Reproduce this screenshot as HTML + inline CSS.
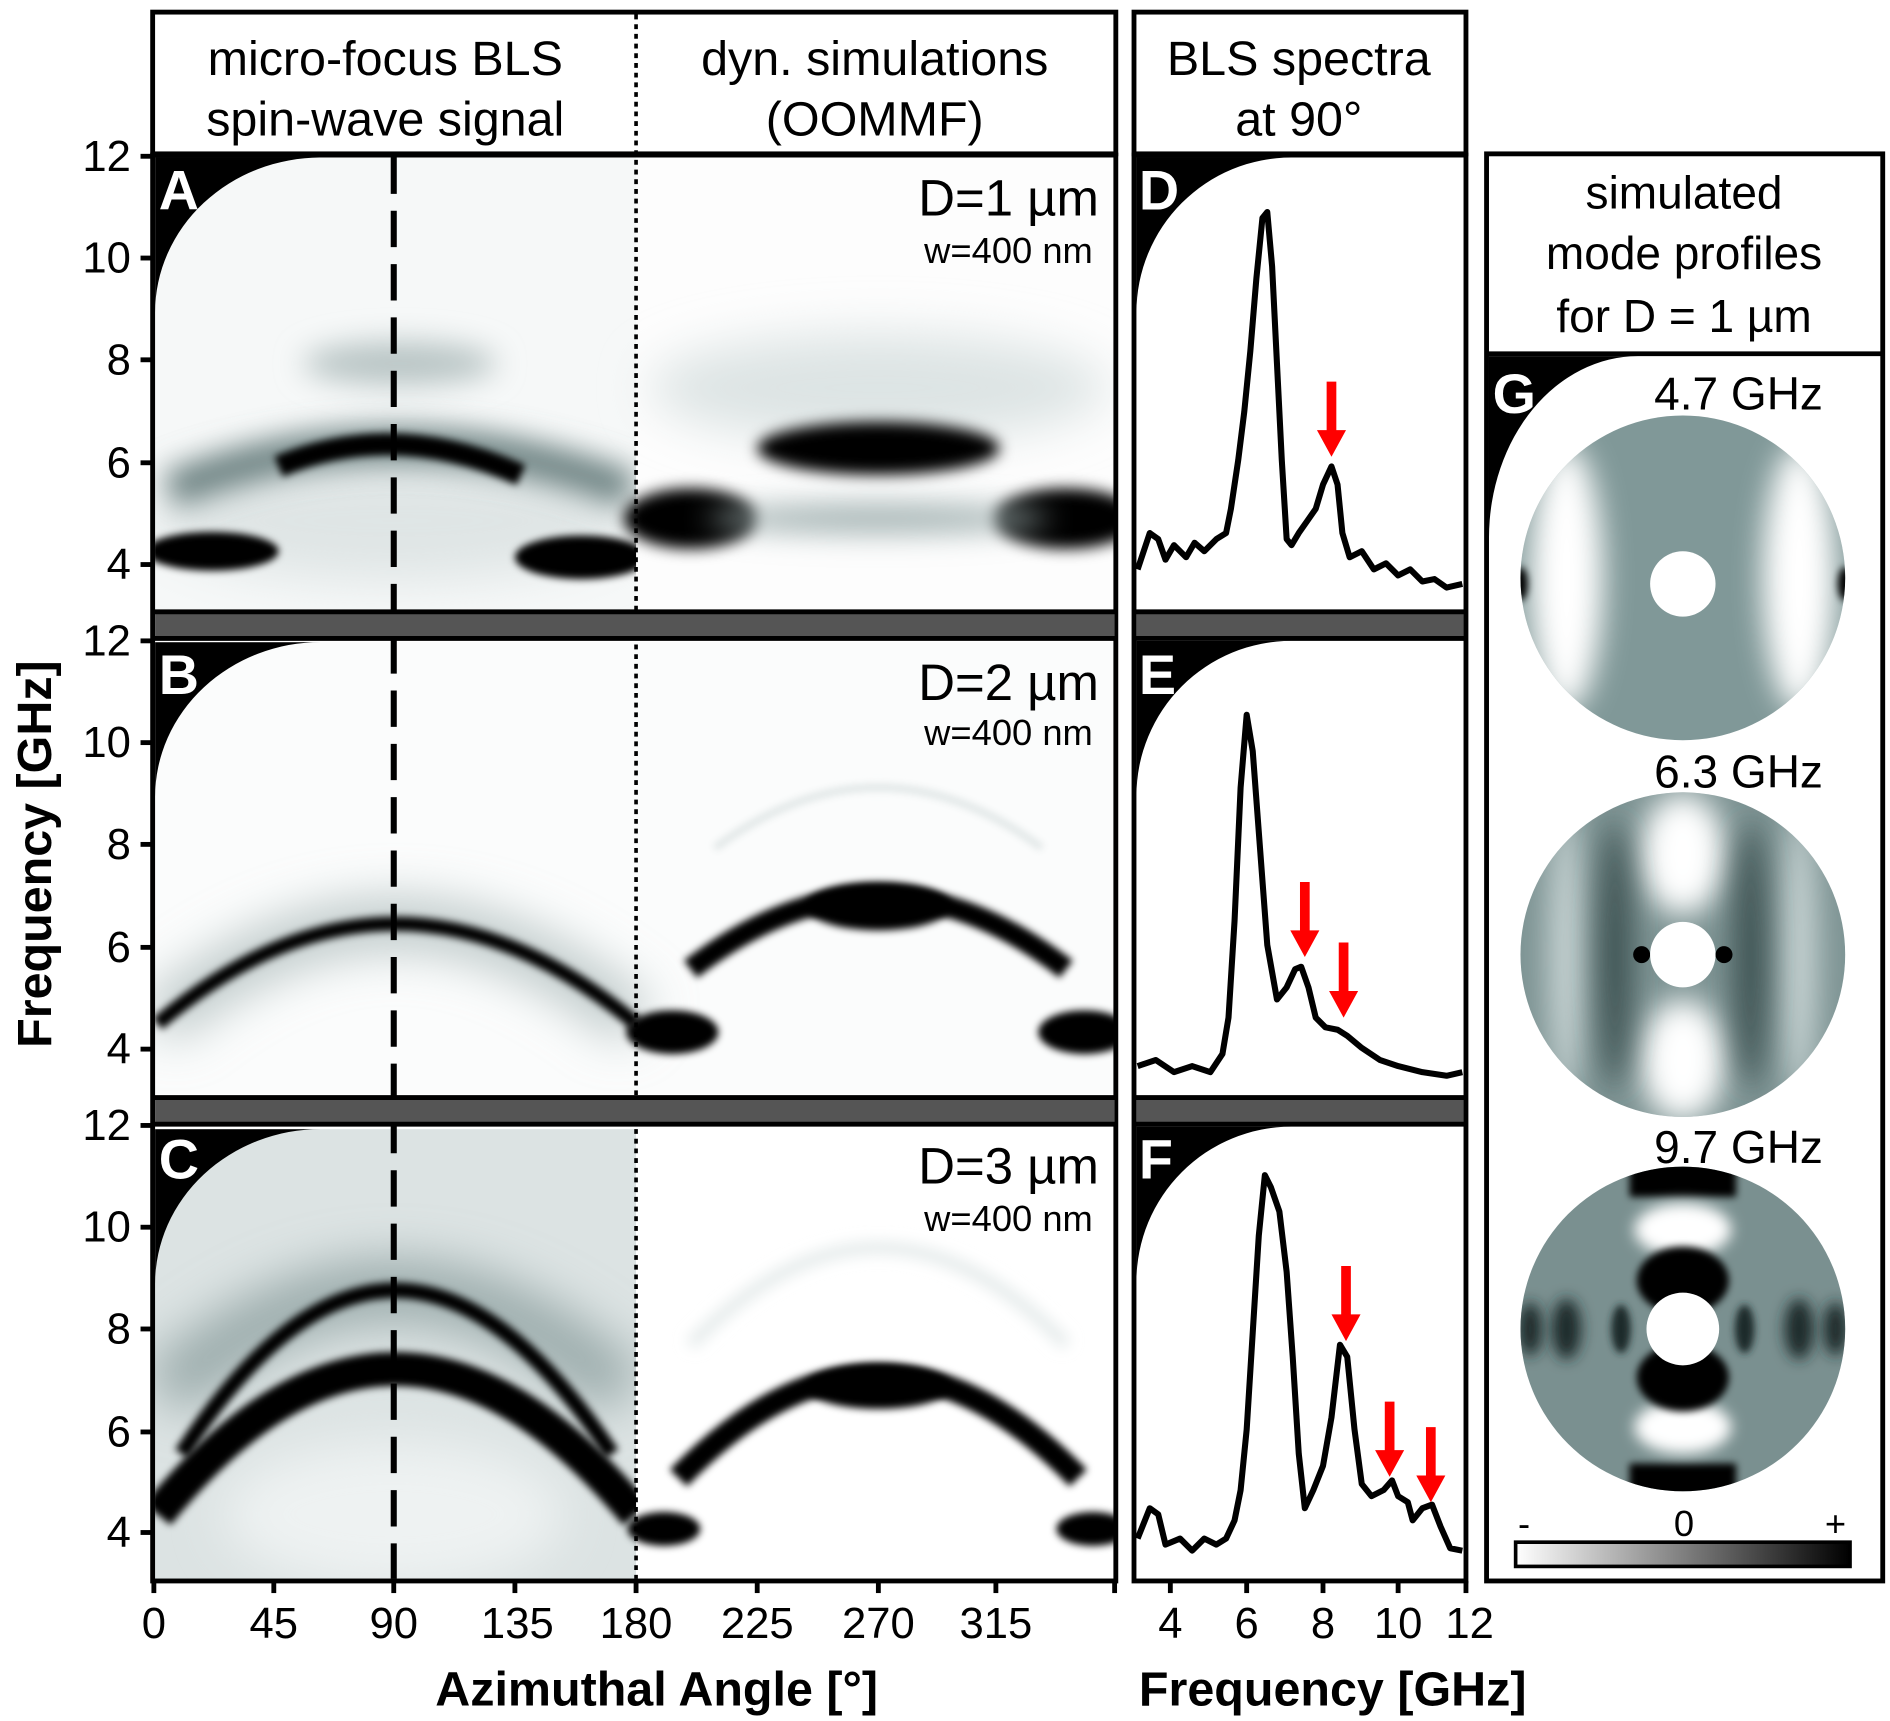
<!DOCTYPE html>
<html><head><meta charset="utf-8"><style>html,body{margin:0;padding:0;background:#fff}svg{display:block}</style></head>
<body>
<svg width="1890" height="1721" viewBox="0 0 1560 1420.6" preserveAspectRatio="none" xmlns="http://www.w3.org/2000/svg" font-family="Liberation Sans, Arial, sans-serif">
<defs>
<filter id="b3" filterUnits="userSpaceOnUse" x="0" y="0" width="1560" height="1421"><feGaussianBlur stdDeviation="3"/></filter>
<filter id="b6" filterUnits="userSpaceOnUse" x="0" y="0" width="1560" height="1421"><feGaussianBlur stdDeviation="6"/></filter>
<filter id="b12" filterUnits="userSpaceOnUse" x="0" y="0" width="1560" height="1421"><feGaussianBlur stdDeviation="12"/></filter>
<filter id="b20" filterUnits="userSpaceOnUse" x="0" y="0" width="1560" height="1421"><feGaussianBlur stdDeviation="20"/></filter>
<clipPath id="cA"><rect x="128" y="130" width="792" height="373"/></clipPath>
<clipPath id="cB"><rect x="128" y="530" width="792" height="373"/></clipPath>
<clipPath id="cC"><rect x="128" y="932" width="792" height="371"/></clipPath>
<clipPath id="d1"><circle cx="1396" cy="477" r="134"/></clipPath>
<clipPath id="d2"><circle cx="1396" cy="788" r="134"/></clipPath>
<clipPath id="d3"><circle cx="1396" cy="1097" r="134"/></clipPath>
<linearGradient id="cb" x1="0" x2="1"><stop offset="0" stop-color="#fff"/><stop offset="1" stop-color="#000"/></linearGradient>
</defs>

<!-- headers -->
<rect x="126" y="10" width="795" height="117" fill="#fff" stroke="#000" stroke-width="4"/>
<text x="318" y="62" font-size="40" text-anchor="middle">micro-focus BLS</text>
<text x="318" y="112" font-size="40" text-anchor="middle">spin-wave signal</text>
<text x="722" y="62" font-size="40" text-anchor="middle">dyn. simulations</text>
<text x="722" y="112" font-size="40" text-anchor="middle">(OOMMF)</text>

<!-- Panel A -->
<g clip-path="url(#cA)">
<rect x="128" y="130" width="792" height="373" fill="#f6f8f8"/>
<ellipse cx="325" cy="430" rx="200" ry="50" fill="#dfe5e5" filter="url(#b20)"/>
<ellipse cx="330" cy="300" rx="80" ry="18" fill="#b8c4c4" filter="url(#b12)"/>
<path d="M140,405 Q325,330 520,405" stroke="#6a8080" stroke-width="30" fill="none" filter="url(#b12)"/>
<path d="M230,385 Q325,345 430,392" stroke="#000" stroke-width="18" fill="none" filter="url(#b3)"/>
<ellipse cx="175" cy="455" rx="55" ry="16" fill="#000" filter="url(#b3)"/>
<ellipse cx="480" cy="460" rx="55" ry="18" fill="#000" filter="url(#b3)"/>
<rect x="525" y="130" width="395" height="373" fill="#fdfdfd"/>
<ellipse cx="725" cy="320" rx="190" ry="45" fill="#dde4e4" filter="url(#b20)"/>
<ellipse cx="725" cy="370" rx="100" ry="22" fill="#000" filter="url(#b6)"/>
<ellipse cx="570" cy="428" rx="55" ry="25" fill="#000" filter="url(#b6)"/>
<ellipse cx="880" cy="428" rx="60" ry="25" fill="#000" filter="url(#b6)"/>
<ellipse cx="725" cy="428" rx="140" ry="12" fill="#a0b0b0" filter="url(#b12)"/>
<path d="M128,130 L265,130 A137 128 0 0 0 128 258 Z" fill="#000"/>
</g>
<!-- Panel B -->
<g clip-path="url(#cB)">
<rect x="128" y="530" width="792" height="373" fill="#fbfcfc"/>
<path d="M130,845 Q325,680 525,845" stroke="#b8c4c4" stroke-width="40" fill="none" filter="url(#b20)"/>
<path d="M130,845 Q325,680 525,845" stroke="#000" stroke-width="12" fill="none" filter="url(#b3)"/>
<ellipse cx="555" cy="852" rx="38" ry="18" fill="#000" filter="url(#b3)"/>
<ellipse cx="895" cy="852" rx="38" ry="18" fill="#000" filter="url(#b3)"/>
<path d="M570,800 Q725,680 880,800" stroke="#000" stroke-width="18" fill="none" filter="url(#b3)"/>
<ellipse cx="725" cy="748" rx="60" ry="20" fill="#000" filter="url(#b3)"/>
<path d="M590,700 Q725,600 860,700" stroke="#e0e6e6" stroke-width="6" fill="none" filter="url(#b3)"/>
<path d="M128,530 L265,530 A137 128 0 0 0 128 658 Z" fill="#000"/>
</g>
<!-- Panel C -->
<g clip-path="url(#cC)">
<rect x="128" y="932" width="397" height="371" fill="#dce3e3"/>
<ellipse cx="325" cy="1250" rx="140" ry="60" fill="#eef2f2" filter="url(#b20)"/>
<path d="M135,1150 Q325,980 515,1150" stroke="#9aaaaa" stroke-width="50" fill="none" filter="url(#b20)"/>
<path d="M130,1250 Q325,1010 525,1250" stroke="#000" stroke-width="28" fill="none" filter="url(#b3)"/>
<path d="M150,1200 Q325,930 505,1200" stroke="#000" stroke-width="13" fill="none" filter="url(#b3)"/>
<rect x="525" y="932" width="395" height="371" fill="#fff"/>
<path d="M560,1220 Q725,1050 890,1220" stroke="#000" stroke-width="20" fill="none" filter="url(#b3)"/>
<ellipse cx="725" cy="1145" rx="60" ry="18" fill="#000" filter="url(#b3)"/>
<path d="M570,1110 Q725,950 880,1110" stroke="#e4eaea" stroke-width="10" fill="none" filter="url(#b6)"/>
<ellipse cx="548" cy="1262" rx="30" ry="14" fill="#000" filter="url(#b3)"/>
<ellipse cx="902" cy="1262" rx="30" ry="14" fill="#000" filter="url(#b3)"/>
<path d="M128,932 L265,932 A137 128 0 0 0 128 1060 Z" fill="#000"/>
</g>
<line x1="525" y1="12" x2="525" y2="1303" stroke="#000" stroke-width="3" stroke-dasharray="4,4"/>
<line x1="325" y1="130" x2="325" y2="1303" stroke="#000" stroke-width="5" stroke-dasharray="30,14"/>
<!-- frames and separators -->
<rect x="126" y="128" width="795" height="1177" fill="none" stroke="#000" stroke-width="4"/>
<rect x="128" y="505" width="792" height="22" fill="#555"/><line x1="126" y1="505" x2="921" y2="505" stroke="#000" stroke-width="4"/><line x1="126" y1="527" x2="921" y2="527" stroke="#000" stroke-width="4"/>
<rect x="128" y="906" width="792" height="22" fill="#555"/><line x1="126" y1="906" x2="921" y2="906" stroke="#000" stroke-width="4"/><line x1="126" y1="928" x2="921" y2="928" stroke="#000" stroke-width="4"/>
<g font-size="46" fill="#fff" font-weight="bold"><text x="131" y="173">A</text><text x="131" y="573">B</text><text x="131" y="973">C</text></g>
<g font-size="42" text-anchor="end"><text x="907" y="178">D=1 µm</text><text x="907" y="578">D=2 µm</text><text x="907" y="977">D=3 µm</text></g>
<g font-size="30" text-anchor="end"><text x="902" y="217">w=400 nm</text><text x="902" y="615">w=400 nm</text><text x="902" y="1016">w=400 nm</text></g>

<!-- y ticks -->
<g font-size="36" text-anchor="end">
<text x="108" y="141">12</text><text x="108" y="225">10</text><text x="108" y="309">8</text><text x="108" y="394">6</text><text x="108" y="478">4</text>
<text x="108" y="541">12</text><text x="108" y="625">10</text><text x="108" y="709">8</text><text x="108" y="794">6</text><text x="108" y="878">4</text>
<text x="108" y="941">12</text><text x="108" y="1025">10</text><text x="108" y="1109">8</text><text x="108" y="1194">6</text><text x="108" y="1277">4</text>
</g>
<g stroke="#000" stroke-width="4">
<line x1="116" y1="129" x2="126" y2="129"/><line x1="116" y1="213" x2="126" y2="213"/><line x1="116" y1="297" x2="126" y2="297"/><line x1="116" y1="382" x2="126" y2="382"/><line x1="116" y1="466" x2="126" y2="466"/>
<line x1="116" y1="529" x2="126" y2="529"/><line x1="116" y1="613" x2="126" y2="613"/><line x1="116" y1="697" x2="126" y2="697"/><line x1="116" y1="782" x2="126" y2="782"/><line x1="116" y1="866" x2="126" y2="866"/>
<line x1="116" y1="929" x2="126" y2="929"/><line x1="116" y1="1013" x2="126" y2="1013"/><line x1="116" y1="1097" x2="126" y2="1097"/><line x1="116" y1="1182" x2="126" y2="1182"/><line x1="116" y1="1265" x2="126" y2="1265"/>
</g>
<text transform="translate(42,705) rotate(-90)" font-size="40" font-weight="bold" text-anchor="middle">Frequency  [GHz]</text>
<!-- x ticks -->
<g stroke="#000" stroke-width="4">
<line x1="127" y1="1305" x2="127" y2="1315"/><line x1="226" y1="1305" x2="226" y2="1315"/><line x1="325" y1="1305" x2="325" y2="1315"/><line x1="425" y1="1305" x2="425" y2="1315"/><line x1="525" y1="1305" x2="525" y2="1315"/><line x1="625" y1="1305" x2="625" y2="1315"/><line x1="725" y1="1305" x2="725" y2="1315"/><line x1="822" y1="1305" x2="822" y2="1315"/><line x1="920" y1="1305" x2="920" y2="1315"/>
</g>
<g font-size="36" text-anchor="middle">
<text x="127" y="1352">0</text><text x="226" y="1352">45</text><text x="325" y="1352">90</text><text x="427" y="1352">135</text><text x="525" y="1352">180</text><text x="625" y="1352">225</text><text x="725" y="1352">270</text><text x="822" y="1352">315</text>
</g>
<text x="542" y="1408" font-size="40" font-weight="bold" text-anchor="middle">Azimuthal  Angle [°]</text>

<!-- Spectra D-F -->
<g transform="translate(-6,0)">
<rect x="942" y="10" width="274" height="117" fill="#fff" stroke="#000" stroke-width="4"/>
<text x="1078" y="62" font-size="40" text-anchor="middle">BLS spectra</text>
<text x="1078" y="112" font-size="40" text-anchor="middle">at 90°</text>
<rect x="942" y="128" width="274" height="1177" fill="#fff" stroke="#000" stroke-width="4"/>
<rect x="944" y="505" width="270" height="22" fill="#555"/><line x1="942" y1="505" x2="1216" y2="505" stroke="#000" stroke-width="4"/><line x1="942" y1="527" x2="1216" y2="527" stroke="#000" stroke-width="4"/>
<rect x="944" y="906" width="270" height="22" fill="#555"/><line x1="942" y1="906" x2="1216" y2="906" stroke="#000" stroke-width="4"/><line x1="942" y1="928" x2="1216" y2="928" stroke="#000" stroke-width="4"/>
<path d="M944,130 L1072,130 A128 128 0 0 0 944 258 Z" fill="#000"/>
<path d="M944,529 L1072,529 A128 128 0 0 0 944 657 Z" fill="#000"/>
<path d="M944,930 L1072,930 A128 128 0 0 0 944 1058 Z" fill="#000"/>
<g font-size="46" fill="#fff" font-weight="bold"><text x="946" y="173">D</text><text x="946" y="573">E</text><text x="946" y="973">F</text></g>
<g fill="none" stroke="#000" stroke-width="5" stroke-linejoin="round">
<polyline points="945,470 955,440 962,445 968,462 975,450 985,460 992,448 1000,455 1010,445 1018,440 1022,420 1028,380 1033,340 1038,290 1043,230 1048,180 1052,175 1056,220 1060,300 1064,380 1068,445 1072,450 1078,440 1085,430 1092,420 1098,400 1105,385 1110,400 1114,440 1120,460 1130,455 1140,470 1150,465 1160,475 1170,470 1180,480 1190,478 1200,485 1213,482"/>
<polyline points="945,880 960,875 975,885 990,880 1005,885 1015,870 1020,840 1025,760 1030,650 1035,590 1040,620 1046,700 1052,780 1060,825 1068,815 1075,800 1080,798 1086,815 1092,840 1100,848 1110,850 1118,855 1130,865 1145,875 1160,880 1180,885 1200,888 1213,885"/>
<polyline points="945,1270 955,1245 962,1250 968,1275 980,1270 990,1280 1000,1270 1010,1275 1018,1270 1025,1255 1030,1230 1035,1180 1040,1100 1045,1020 1050,970 1055,980 1062,1000 1068,1050 1073,1120 1078,1200 1083,1245 1090,1230 1098,1210 1105,1170 1112,1110 1118,1120 1124,1180 1130,1225 1138,1235 1148,1230 1155,1222 1160,1235 1168,1240 1172,1255 1180,1245 1188,1242 1195,1260 1203,1278 1213,1280"/>
</g>
<g fill="#f00">
<path d="M1101,315 h8 v40 h8 l-12,22 l-12,-22 h8 z"/>
<path d="M1079,728 h8 v40 h8 l-12,22 l-12,-22 h8 z"/>
<path d="M1111,778 h8 v40 h8 l-12,22 l-12,-22 h8 z"/>
<path d="M1113,1045 h8 v40 h8 l-12,22 l-12,-22 h8 z"/>
<path d="M1149,1157 h8 v40 h8 l-12,22 l-12,-22 h8 z"/>
<path d="M1183,1178 h8 v40 h8 l-12,22 l-12,-22 h8 z"/>
</g>
<g stroke="#000" stroke-width="4">
<line x1="972" y1="1305" x2="972" y2="1315"/><line x1="1035" y1="1305" x2="1035" y2="1315"/><line x1="1098" y1="1305" x2="1098" y2="1315"/><line x1="1160" y1="1305" x2="1160" y2="1315"/><line x1="1216" y1="1305" x2="1216" y2="1315"/>
</g>
<g font-size="36" text-anchor="middle">
<text x="972" y="1352">4</text><text x="1035" y="1352">6</text><text x="1098" y="1352">8</text><text x="1160" y="1352">10</text><text x="1219" y="1352">12</text>
</g>
<text x="1106" y="1408" font-size="40" font-weight="bold" text-anchor="middle">Frequency  [GHz]</text>
</g>

<!-- G -->
<g transform="translate(-7,0)">
<rect x="1234" y="127" width="327" height="1178" fill="#fff" stroke="#000" stroke-width="4"/>
<line x1="1234" y1="292" x2="1561" y2="292" stroke="#000" stroke-width="4"/>
<g font-size="38" text-anchor="middle"><text x="1397" y="172">simulated</text><text x="1397" y="222">mode profiles</text><text x="1397" y="274">for  D = 1 µm</text></g>
<path d="M1236,294 L1359,294 A123 150 0 0 0 1236 444 Z" fill="#000"/>
<text x="1239" y="341" font-size="46" fill="#fff" font-weight="bold">G</text>
<g clip-path="url(#d1)">
<rect x="1250" y="330" width="300" height="300" fill="#809898"/>
<ellipse cx="1300" cy="477" rx="30" ry="110" fill="#fff" filter="url(#b12)"/>
<ellipse cx="1492" cy="477" rx="30" ry="110" fill="#fff" filter="url(#b12)"/>
<ellipse cx="1262" cy="482" rx="6" ry="14" fill="#000" filter="url(#b3)"/>
<ellipse cx="1530" cy="482" rx="6" ry="14" fill="#000" filter="url(#b3)"/>
</g>
<circle cx="1396" cy="482" r="27" fill="#fff"/>
<g clip-path="url(#d2)">
<rect x="1250" y="640" width="300" height="300" fill="#7e9494"/>
<ellipse cx="1396" cy="705" rx="35" ry="50" fill="#fff" filter="url(#b12)"/>
<ellipse cx="1396" cy="875" rx="35" ry="50" fill="#fff" filter="url(#b12)"/>
<ellipse cx="1300" cy="788" rx="15" ry="120" fill="#c8d4d4" filter="url(#b12)"/>
<ellipse cx="1492" cy="788" rx="15" ry="120" fill="#c8d4d4" filter="url(#b12)"/>
<ellipse cx="1340" cy="788" rx="14" ry="110" fill="#3a5050" filter="url(#b12)"/>
<ellipse cx="1452" cy="788" rx="14" ry="110" fill="#3a5050" filter="url(#b12)"/>
<circle cx="1362" cy="788" r="7" fill="#000"/><circle cx="1430" cy="788" r="7" fill="#000"/>
</g>
<circle cx="1396" cy="788" r="27" fill="#fff"/>
<g clip-path="url(#d3)">
<rect x="1250" y="950" width="300" height="300" fill="#7a9090"/>
<rect x="1352" y="958" width="88" height="30" fill="#000" filter="url(#b3)"/>
<rect x="1352" y="1208" width="88" height="30" fill="#000" filter="url(#b3)"/>
<ellipse cx="1396" cy="1015" rx="40" ry="22" fill="#fff" filter="url(#b6)"/>
<ellipse cx="1396" cy="1178" rx="40" ry="22" fill="#fff" filter="url(#b6)"/>
<ellipse cx="1396" cy="1057" rx="38" ry="28" fill="#000" filter="url(#b3)"/>
<ellipse cx="1396" cy="1137" rx="38" ry="28" fill="#000" filter="url(#b3)"/>
<ellipse cx="1300" cy="1097" rx="12" ry="25" fill="#1a2c2c" filter="url(#b6)"/>
<ellipse cx="1492" cy="1097" rx="12" ry="25" fill="#1a2c2c" filter="url(#b6)"/>
<ellipse cx="1270" cy="1097" rx="10" ry="22" fill="#1a2c2c" filter="url(#b6)"/>
<ellipse cx="1522" cy="1097" rx="10" ry="22" fill="#1a2c2c" filter="url(#b6)"/>
<ellipse cx="1345" cy="1097" rx="8" ry="20" fill="#1a2c2c" filter="url(#b3)"/>
<ellipse cx="1447" cy="1097" rx="8" ry="20" fill="#1a2c2c" filter="url(#b3)"/>
</g>
<circle cx="1396" cy="1097" r="30" fill="#fff"/>
<g font-size="38" text-anchor="middle"><text x="1442" y="338">4.7 GHz</text><text x="1442" y="650">6.3 GHz</text><text x="1442" y="960">9.7 GHz</text></g>
<rect x="1258" y="1273" width="276" height="20" fill="url(#cb)" stroke="#000" stroke-width="3"/>
<g font-size="30" text-anchor="middle"><text x="1265" y="1268">-</text><text x="1397" y="1268">0</text><text x="1522" y="1268">+</text></g>
</g>
</svg>
</body></html>
